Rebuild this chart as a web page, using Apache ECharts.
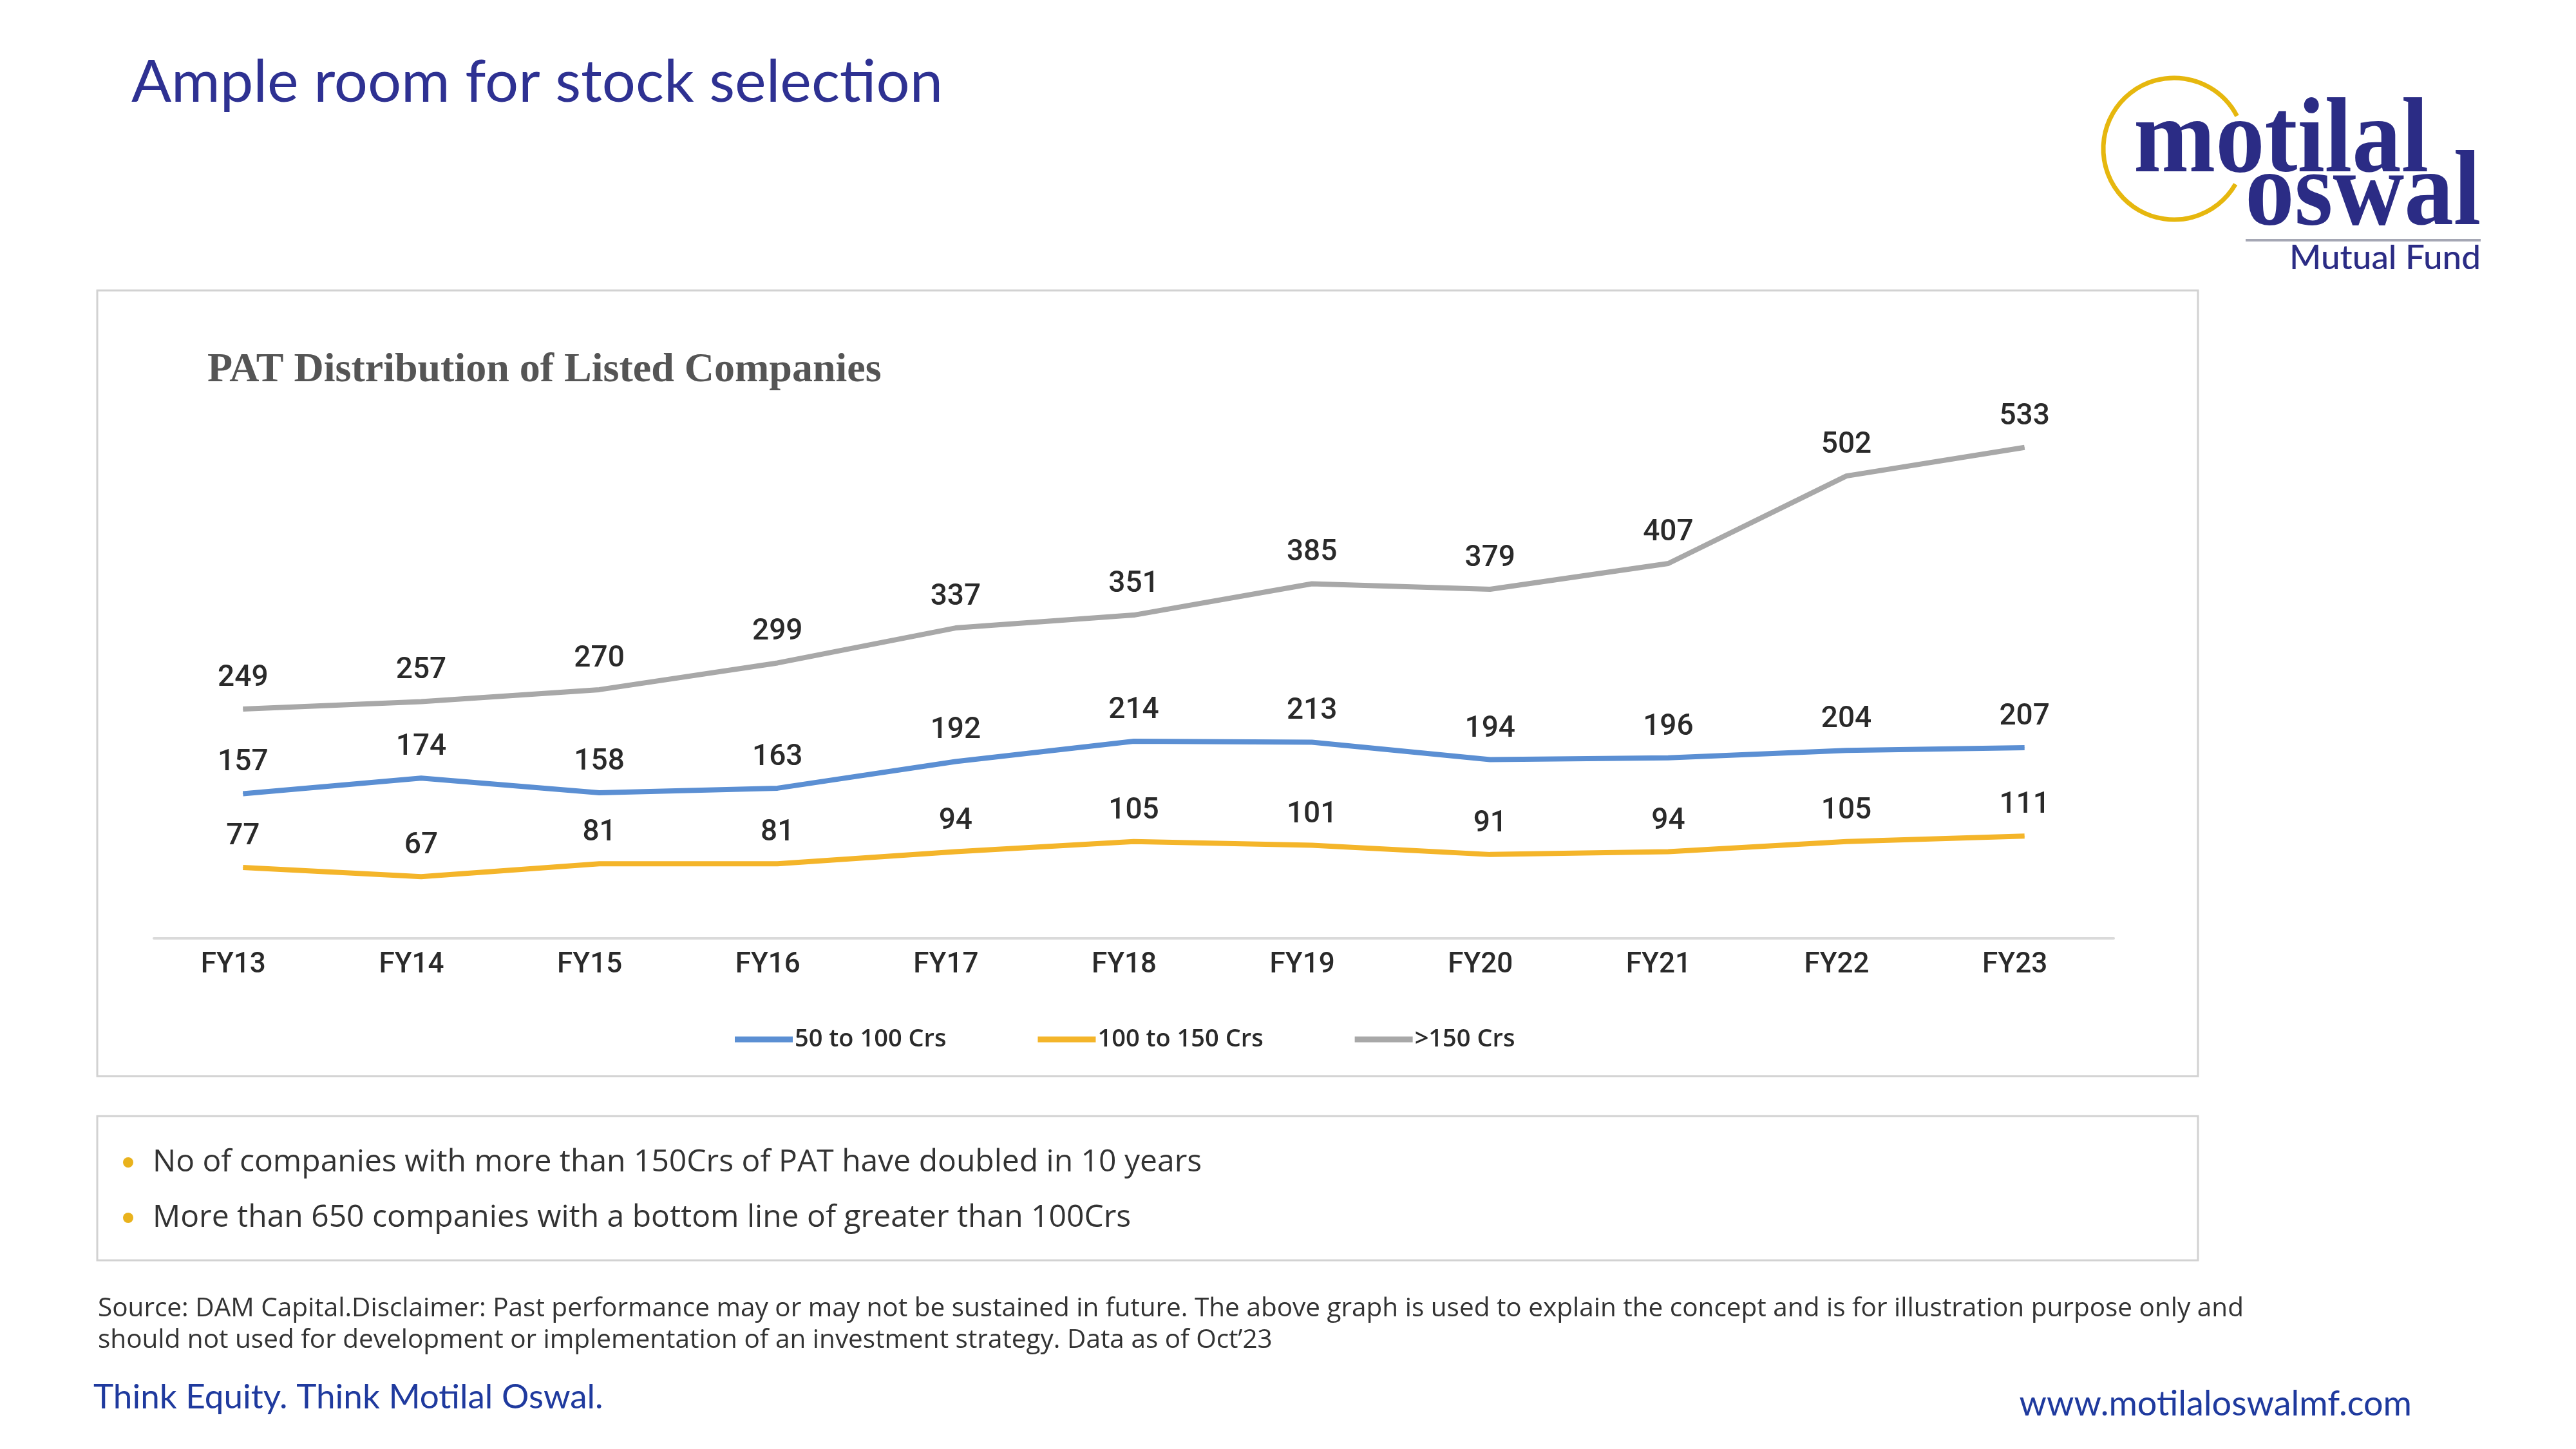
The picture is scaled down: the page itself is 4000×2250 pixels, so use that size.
<!DOCTYPE html>
<html>
<head>
<meta charset="utf-8">
<script src="https://cdn.jsdelivr.net/npm/echarts@6/dist/echarts.min.js"></script>
<style>
html,body{margin:0;padding:0;background:#fff;}
#main{position:absolute;left:0;top:0;width:4000px;height:2250px;}
</style>
</head>
<body>
<div id="main"></div>
<script>
const categories = ['FY13','FY14','FY15','FY16','FY17','FY18','FY19','FY20','FY21','FY22','FY23'];
const s50to100 = [157,174,158,163,192,214,213,194,196,204,207];
const s100to150 = [77,67,81,81,94,105,101,91,94,105,111];
const sAbove150 = [249,257,270,299,337,351,385,379,407,502,533];
const seriesNames = ['50 to 100 Crs','100 to 150 Crs','>150 Crs'];
const seriesColors = ['#5B8FD3','#F4B52A','#A8A8A8'];
const bullets = [
  'No of companies with more than 150Crs of PAT have doubled in 10 years',
  'More than 650 companies with a bottom line of greater than 100Crs'
];
const sourceLines = [
  'Source: DAM Capital.Disclaimer: Past performance may or may not be sustained in future. The above graph is used to explain the concept and is for illustration purpose only and',
  'should not used for development or implementation of an investment strategy. Data as of Oct\u201923'
];

const chart = echarts.init(document.getElementById('main'), null, {renderer:'canvas'});
const NAVY = '#2B2C85';
const labelFont = {fontFamily:'Roboto', fontSize:46, fontWeight:500, color:'#2a2a2a'};

function mkSeries(name, data, color){
  return {
    name, type:'line', data,
    symbol:'circle', symbolSize:1, showSymbol:true,
    itemStyle:{color},
    lineStyle:{color, width:8},
    label:{show:true, position:'top', distance:24, ...labelFont},
    emphasis:{disabled:true},
    z:3
  };
}

const option = {
  animation:false,
  backgroundColor:'#ffffff',
  grid:{left:239, right:718, top:599, bottom:793, containLabel:false},
  xAxis:{
    type:'category', data:categories, boundaryGap:true,
    axisLine:{show:true, lineStyle:{color:'#DADADA', width:4}},
    axisTick:{show:false},
    axisLabel:{margin:20, fontFamily:'Roboto', fontSize:44, fontWeight:500, color:'#2a2a2a', padding:[0,30,0,0]}
  },
  yAxis:{type:'value', min:0, max:600, show:false, splitLine:{show:false}},
  legend:{
    left:1136, top:1590, itemWidth:90, itemHeight:9, itemGap:142,
    icon:'rect',
    textStyle:{fontFamily:'Open Sans', fontSize:38, fontWeight:600, color:'#2a2a2a', padding:[0,0,0,-2]},
    data:seriesNames
  },
  series:[
    mkSeries(seriesNames[0], s50to100, seriesColors[0]),
    mkSeries(seriesNames[1], s100to150, seriesColors[1]),
    mkSeries(seriesNames[2], sAbove150, seriesColors[2])
  ],
  graphic:[
    // page title
    {type:'text', left:204, top:82, style:{text:'Ample room for stock selection', font:'400 92px Lato', fill:'#2E3192'}},
    // logo
    {type:'arc', shape:{cx:3376, cy:231, r:110, startAngle:Math.PI*0.167, endAngle:Math.PI*1.847, clockwise:true},
      style:{stroke:'#E6B70E', lineWidth:7, fill:null}},
    {type:'text', x:3313, y:306, scaleX:0.92, style:{text:'motilal', font:'bold 166px "Liberation Serif"', fill:NAVY, verticalAlign:'bottom'}},
    {type:'text', x:3486, y:388, scaleX:0.924, style:{text:'oswal', font:'bold 166px "Liberation Serif"', fill:NAVY, verticalAlign:'bottom'}},
    {type:'line', shape:{x1:3487, y1:373, x2:3852, y2:373}, style:{stroke:'#A5A7B4', lineWidth:4}},
    {type:'text', x:3852, y:401, style:{text:'Mutual Fund', font:'500 53px Lato', fill:NAVY, align:'right', verticalAlign:'middle'}},
    // chart box
    {type:'rect', shape:{x:151, y:451, width:3262, height:1220}, style:{fill:null, stroke:'#D2D2D2', lineWidth:3}, z:0},
    {type:'text', left:322, top:543, style:{text:'PAT Distribution of Listed Companies', font:'bold 64px "Liberation Serif"', fill:'#555555'}},
    // bullet box
    {type:'rect', shape:{x:151, y:1733, width:3262, height:224}, style:{fill:null, stroke:'#D2D2D2', lineWidth:3}, z:0},
    {type:'circle', shape:{cx:199, cy:1805, r:8}, style:{fill:'#E9B21C'}},
    {type:'circle', shape:{cx:199, cy:1891, r:8}, style:{fill:'#E9B21C'}},
    {type:'text', x:237, y:1805, style:{text:bullets[0], font:'400 48px "Open Sans"', fill:'#333333', verticalAlign:'middle'}},
    {type:'text', x:237, y:1891, style:{text:bullets[1], font:'400 48px "Open Sans"', fill:'#333333', verticalAlign:'middle'}},
    // source
    {type:'text', x:152, y:2032, style:{text:sourceLines[0], font:'400 40.5px "Open Sans"', fill:'#333333', verticalAlign:'middle'}},
    {type:'text', x:152, y:2081, style:{text:sourceLines[1], font:'400 40.5px "Open Sans"', fill:'#333333', verticalAlign:'middle'}},
    // footer
    {type:'text', x:145, y:2170, style:{text:'Think Equity. Think Motilal Oswal.', font:'400 53px Lato', fill:'#1F3A9E', verticalAlign:'middle'}},
    {type:'text', x:3745, y:2181, style:{text:'www.motilaloswalmf.com', font:'400 54px Lato', fill:'#1F3A9E', align:'right', verticalAlign:'middle'}}
  ]
};
chart.setOption(option);
</script>
</body>
</html>
